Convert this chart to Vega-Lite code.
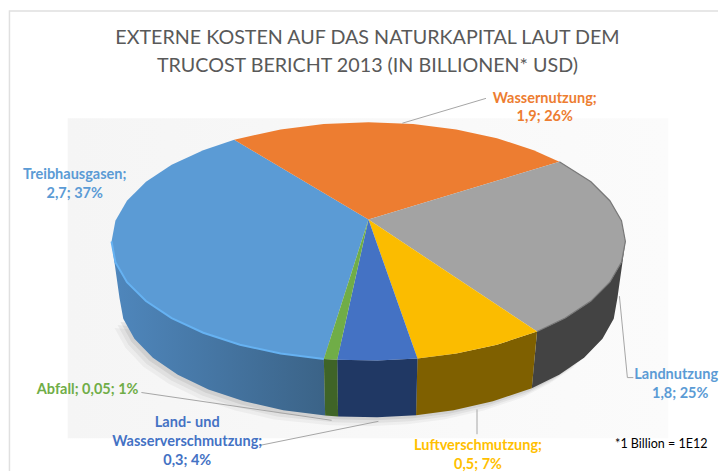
{"$schema":"https://vega.github.io/schema/vega-lite/v6.json","width":721,"height":474,"padding":0,"autosize":{"type":"fit","contains":"padding"},"background":"white","view":{"stroke":null},
"datasets":{
"panel":[{"x":68,"x2":671,"y":119,"y2":441}],
"border":[{"i":0,"x":9.5,"y":474},{"i":1,"x":9.5,"y":11},{"i":2,"x":721,"y":11}],
"shadow":[{"i":0,"x":586,"y":360},{"i":1,"x":561,"y":377},{"i":2,"x":534,"y":391},{"i":3,"x":495,"y":404},{"i":4,"x":455,"y":413},{"i":5,"x":418,"y":418},{"i":6,"x":379,"y":420},{"i":7,"x":340,"y":419},{"i":8,"x":284,"y":413},{"i":9,"x":245,"y":404},{"i":10,"x":209,"y":392},{"i":11,"x":178,"y":377},{"i":12,"x":153,"y":360},{"i":13,"x":135,"y":341},{"i":14,"x":124,"y":321}],
"sideBlue":[{"i":0,"x":325.2,"y":361.2},{"i":1,"x":281.8,"y":355.8},{"i":2,"x":241,"y":346.9},{"i":3,"x":204.1,"y":334.9},{"i":4,"x":172.4,"y":320.2},{"i":5,"x":146.6,"y":303},{"i":6,"x":127.5,"y":284},{"i":7,"x":115.9,"y":263.9},{"i":8,"x":112,"y":243},{"i":9,"x":120,"y":300},{"i":10,"x":123.8,"y":320.9},{"i":11,"x":135,"y":341},{"i":12,"x":153.5,"y":360},{"i":13,"x":178.5,"y":377.2},{"i":14,"x":209.3,"y":391.9},{"i":15,"x":245,"y":403.9},{"i":16,"x":284.5,"y":412.8},{"i":17,"x":326.5,"y":418.2}],
"faces":[
{"p":"Landnutzung Seite","i":0,"x":628,"y":243},{"p":"Landnutzung Seite","i":1,"x":624.1,"y":263.8},{"p":"Landnutzung Seite","i":2,"x":612.4,"y":284},{"p":"Landnutzung Seite","i":3,"x":593.4,"y":303},{"p":"Landnutzung Seite","i":4,"x":567.6,"y":320.1},{"p":"Landnutzung Seite","i":5,"x":539.3,"y":333.6},{"p":"Landnutzung Seite","i":6,"x":534,"y":390.6},{"p":"Landnutzung Seite","i":7,"x":561.5,"y":377.2},{"p":"Landnutzung Seite","i":8,"x":586.5,"y":360},{"p":"Landnutzung Seite","i":9,"x":605,"y":341},{"p":"Landnutzung Seite","i":10,"x":616.3,"y":320.9},{"p":"Landnutzung Seite","i":11,"x":620,"y":300},
{"p":"Luftverschmutzung Seite","i":0,"x":539.3,"y":333.6},{"p":"Luftverschmutzung Seite","i":1,"x":499,"y":346.9},{"p":"Luftverschmutzung Seite","i":2,"x":458.2,"y":355.8},{"p":"Luftverschmutzung Seite","i":3,"x":419.2,"y":360.8},{"p":"Luftverschmutzung Seite","i":4,"x":417.8,"y":417.8},{"p":"Luftverschmutzung Seite","i":5,"x":455.5,"y":412.8},{"p":"Luftverschmutzung Seite","i":6,"x":495,"y":403.9},{"p":"Luftverschmutzung Seite","i":7,"x":534,"y":390.6},
{"p":"Land- und Wasserverschmutzung Seite","i":0,"x":419.2,"y":360.8},{"p":"Land- und Wasserverschmutzung Seite","i":1,"x":379,"y":362.9},{"p":"Land- und Wasserverschmutzung Seite","i":2,"x":338.6,"y":362.1},{"p":"Land- und Wasserverschmutzung Seite","i":3,"x":339.5,"y":419.2},{"p":"Land- und Wasserverschmutzung Seite","i":4,"x":378.8,"y":419.9},{"p":"Land- und Wasserverschmutzung Seite","i":5,"x":417.8,"y":417.8},
{"p":"Abfall Seite","i":0,"x":338.6,"y":362.1},{"p":"Abfall Seite","i":1,"x":325.2,"y":361.2},{"p":"Abfall Seite","i":2,"x":326.5,"y":418.2},{"p":"Abfall Seite","i":3,"x":339.5,"y":419.2},
{"p":"Treibhausgasen","i":0,"x":370,"y":221},{"p":"Treibhausgasen","i":1,"x":325.2,"y":361.2},{"p":"Treibhausgasen","i":2,"x":281.8,"y":355.8},{"p":"Treibhausgasen","i":3,"x":241,"y":346.9},{"p":"Treibhausgasen","i":4,"x":204.1,"y":334.9},{"p":"Treibhausgasen","i":5,"x":172.4,"y":320.2},{"p":"Treibhausgasen","i":6,"x":146.6,"y":303},{"p":"Treibhausgasen","i":7,"x":127.5,"y":284},{"p":"Treibhausgasen","i":8,"x":115.9,"y":263.9},{"p":"Treibhausgasen","i":9,"x":112,"y":243},{"p":"Treibhausgasen","i":10,"x":115.9,"y":222.1},{"p":"Treibhausgasen","i":11,"x":127.5,"y":202},{"p":"Treibhausgasen","i":12,"x":146.6,"y":183},{"p":"Treibhausgasen","i":13,"x":172.4,"y":165.8},{"p":"Treibhausgasen","i":14,"x":204.1,"y":151.1},{"p":"Treibhausgasen","i":15,"x":235.2,"y":140.6},
{"p":"Wassernutzung","i":0,"x":370,"y":221},{"p":"Wassernutzung","i":1,"x":235.2,"y":140.6},{"p":"Wassernutzung","i":2,"x":281.8,"y":130.2},{"p":"Wassernutzung","i":3,"x":325.1,"y":124.8},{"p":"Wassernutzung","i":4,"x":370,"y":123},{"p":"Wassernutzung","i":5,"x":414.9,"y":124.8},{"p":"Wassernutzung","i":6,"x":458.2,"y":130.2},{"p":"Wassernutzung","i":7,"x":499,"y":139.1},{"p":"Wassernutzung","i":8,"x":535.9,"y":151.1},{"p":"Wassernutzung","i":9,"x":561.7,"y":162.7},
{"p":"Landnutzung","i":0,"x":370,"y":221},{"p":"Landnutzung","i":1,"x":561.7,"y":162.7},{"p":"Landnutzung","i":2,"x":593.4,"y":183},{"p":"Landnutzung","i":3,"x":612.4,"y":202},{"p":"Landnutzung","i":4,"x":624.1,"y":222.1},{"p":"Landnutzung","i":5,"x":628,"y":243},{"p":"Landnutzung","i":6,"x":624.1,"y":263.8},{"p":"Landnutzung","i":7,"x":612.4,"y":284},{"p":"Landnutzung","i":8,"x":593.4,"y":303},{"p":"Landnutzung","i":9,"x":567.6,"y":320.1},{"p":"Landnutzung","i":10,"x":539.3,"y":333.6},
{"p":"Luftverschmutzung","i":0,"x":370,"y":221},{"p":"Luftverschmutzung","i":1,"x":539.3,"y":333.6},{"p":"Luftverschmutzung","i":2,"x":499,"y":346.9},{"p":"Luftverschmutzung","i":3,"x":458.2,"y":355.8},{"p":"Luftverschmutzung","i":4,"x":419.2,"y":360.8},
{"p":"Land- und Wasserverschmutzung","i":0,"x":370,"y":221},{"p":"Land- und Wasserverschmutzung","i":1,"x":419.2,"y":360.8},{"p":"Land- und Wasserverschmutzung","i":2,"x":379,"y":362.9},{"p":"Land- und Wasserverschmutzung","i":3,"x":338.6,"y":362.1},
{"p":"Abfall","i":0,"x":370,"y":221},{"p":"Abfall","i":1,"x":338.6,"y":362.1},{"p":"Abfall","i":2,"x":325.2,"y":361.2}
],
"rims":[
{"p":"blau","i":0,"x":325.2,"y":361.2},{"p":"blau","i":1,"x":281.8,"y":355.8},{"p":"blau","i":2,"x":241,"y":346.9},{"p":"blau","i":3,"x":204.1,"y":334.9},{"p":"blau","i":4,"x":172.4,"y":320.2},{"p":"blau","i":5,"x":146.6,"y":303},{"p":"blau","i":6,"x":127.5,"y":284},{"p":"blau","i":7,"x":115.9,"y":263.9},{"p":"blau","i":8,"x":112,"y":243},
{"p":"grau","i":0,"x":561.7,"y":162.7},{"p":"grau","i":1,"x":593.4,"y":183},{"p":"grau","i":2,"x":612.4,"y":202},{"p":"grau","i":3,"x":624.1,"y":222.1},{"p":"grau","i":4,"x":628,"y":243},{"p":"grau","i":5,"x":624.1,"y":263.8},{"p":"grau","i":6,"x":612.4,"y":284},{"p":"grau","i":7,"x":593.4,"y":303},{"p":"grau","i":8,"x":567.6,"y":320.1},{"p":"grau","i":9,"x":539.3,"y":333.6}
],
"leaders":[
{"s":"Wassernutzung","i":0,"x":404,"y":124},{"s":"Wassernutzung","i":1,"x":488,"y":99},
{"s":"Abfall","i":0,"x":142,"y":395},{"s":"Abfall","i":1,"x":333,"y":423},
{"s":"Land","i":0,"x":262,"y":448},{"s":"Land","i":1,"x":380,"y":424},
{"s":"Luft","i":0,"x":479,"y":412},{"s":"Luft","i":1,"x":479,"y":437},
{"s":"Landnutzung","i":0,"x":622,"y":298},{"s":"Landnutzung","i":1,"x":630,"y":380},{"s":"Landnutzung","i":2,"x":636,"y":380}
],
"titles":[{"t":"EXTERNE KOSTEN AUF DAS NATURKAPITAL LAUT DEM","x":369,"y":36},{"t":"TRUCOST BERICHT 2013  (IN BILLIONEN* USD)","x":369,"y":64}],
"labels":[
{"slice":"Wassernutzung","value":1.9,"share":26,"t":"Wassernutzung;","x":547,"y":98},{"slice":"Wassernutzung","value":1.9,"share":26,"t":"1,9; 26%","x":547,"y":116},
{"slice":"Treibhausgasen","value":2.7,"share":37,"t":"Treibhausgasen;","x":75,"y":175},{"slice":"Treibhausgasen","value":2.7,"share":37,"t":"2,7; 37%","x":75,"y":194},
{"slice":"Landnutzung","value":1.8,"share":25,"t":"Landnutzung","x":679,"y":376},{"slice":"Landnutzung","value":1.8,"share":25,"t":"1,8; 25%","x":683,"y":395},
{"slice":"Luftverschmutzung","value":0.5,"share":7,"t":"Luftverschmutzung;","x":480,"y":447},{"slice":"Luftverschmutzung","value":0.5,"share":7,"t":"0,5; 7%","x":480,"y":466},
{"slice":"Abfall","value":0.05,"share":1,"t":"Abfall; 0,05; 1%","x":88,"y":391},
{"slice":"Land- und Wasserverschmutzung","value":0.3,"share":4,"t":"Land- und","x":188,"y":424},{"slice":"Land- und Wasserverschmutzung","value":0.3,"share":4,"t":"Wasserverschmutzung;","x":188,"y":443},{"slice":"Land- und Wasserverschmutzung","value":0.3,"share":4,"t":"0,3; 4%","x":188,"y":462}
],
"note":[{"t":"*1 Billion = 1E12","x":664,"y":446}]
},
"encoding":{
"x":{"field":"x","type":"quantitative","scale":{"domain":[0,721],"nice":false,"zero":false},"axis":null},
"y":{"field":"y","type":"quantitative","scale":{"domain":[474,0],"nice":false,"zero":false},"axis":null}
},
"layer":[
{"data":{"name":"panel"},"mark":{"type":"rect","fill":{"x1":0,"y1":0,"x2":1,"y2":0,"gradient":"linear","stops":[{"offset":0,"color":"#f5f5f5"},{"offset":1,"color":"#fbfbfb"}]}},"encoding":{"x2":{"field":"x2"},"y2":{"field":"y2"}}},
{"data":{"name":"border"},"mark":{"type":"line","stroke":"#e0e0e0","strokeWidth":1.5},"encoding":{"order":{"field":"i"}}},
{"data":{"name":"shadow"},"mark":{"type":"line","interpolate":"linear-closed","stroke":null,"fill":"#000000","fillOpacity":0.04,"xOffset":-9,"yOffset":9},"encoding":{"order":{"field":"i"}}},
{"data":{"name":"shadow"},"mark":{"type":"line","interpolate":"linear-closed","stroke":null,"fill":"#000000","fillOpacity":0.05,"xOffset":-6,"yOffset":6},"encoding":{"order":{"field":"i"}}},
{"data":{"name":"shadow"},"mark":{"type":"line","interpolate":"linear-closed","stroke":null,"fill":"#000000","fillOpacity":0.07,"xOffset":-3,"yOffset":3},"encoding":{"order":{"field":"i"}}},
{"data":{"name":"sideBlue"},"mark":{"type":"line","interpolate":"linear-closed","stroke":null,"fill":{"x1":0,"y1":0,"x2":1,"y2":0,"gradient":"linear","stops":[{"offset":0,"color":"#4f87bd"},{"offset":1,"color":"#3b6387"}]}},"encoding":{"order":{"field":"i"}}},
{"data":{"name":"faces"},"mark":{"type":"line","interpolate":"linear-closed","stroke":null},"encoding":{"order":{"field":"i"},"detail":{"field":"p"},"fill":{"field":"p","type":"nominal","legend":null,"scale":{"domain":["Treibhausgasen","Wassernutzung","Landnutzung","Luftverschmutzung","Land- und Wasserverschmutzung","Abfall","Landnutzung Seite","Luftverschmutzung Seite","Land- und Wasserverschmutzung Seite","Abfall Seite"],"range":["#5b9bd5","#ed7d31","#a3a3a3","#fbbc00","#4472c4","#70ad47","#434343","#7f6000","#203864","#3f6427"]}}}},
{"data":{"name":"rims"},"transform":[{"filter":"datum.p==='blau'"}],"mark":{"type":"line","stroke":"#66b2f2","strokeWidth":2},"encoding":{"order":{"field":"i"}}},
{"data":{"name":"rims"},"transform":[{"filter":"datum.p==='grau'"}],"mark":{"type":"line","stroke":"#787878","strokeWidth":1.2},"encoding":{"order":{"field":"i"}}},
{"data":{"name":"leaders"},"mark":{"type":"line","stroke":"#a6a6a6","strokeWidth":1},"encoding":{"order":{"field":"i"},"detail":{"field":"s"}}},
{"data":{"name":"titles"},"mark":{"type":"text","font":"Lato","fontSize":19.7,"fill":"#595959","align":"center","baseline":"middle","dy":2},"encoding":{"text":{"field":"t"}}},
{"data":{"name":"labels"},"transform":[{"filter":"datum.slice!=='Landnutzung'"}],"mark":{"type":"text","font":"Lato","fontSize":14.5,"fontWeight":"bold","align":"center","baseline":"middle","dy":1.5},"encoding":{"text":{"field":"t"},"color":{"field":"slice","type":"nominal","legend":null,"scale":{"domain":["Treibhausgasen","Wassernutzung","Luftverschmutzung","Land- und Wasserverschmutzung","Abfall"],"range":["#5b9bd5","#ed7d31","#ffc000","#4472c4","#70ad47"]}}}},
{"data":{"name":"labels"},"transform":[{"filter":"datum.slice==='Landnutzung'"}],"mark":{"type":"text","font":"Lato","fontSize":14.5,"fontWeight":"bold","align":"center","baseline":"middle","fill":"#5b9bd5","dy":1.5},"encoding":{"text":{"field":"t"}}},
{"data":{"name":"note"},"mark":{"type":"text","font":"Lato","fontSize":12.5,"fill":"#000000","align":"center","baseline":"middle","dy":1},"encoding":{"text":{"field":"t"}}}
]}
